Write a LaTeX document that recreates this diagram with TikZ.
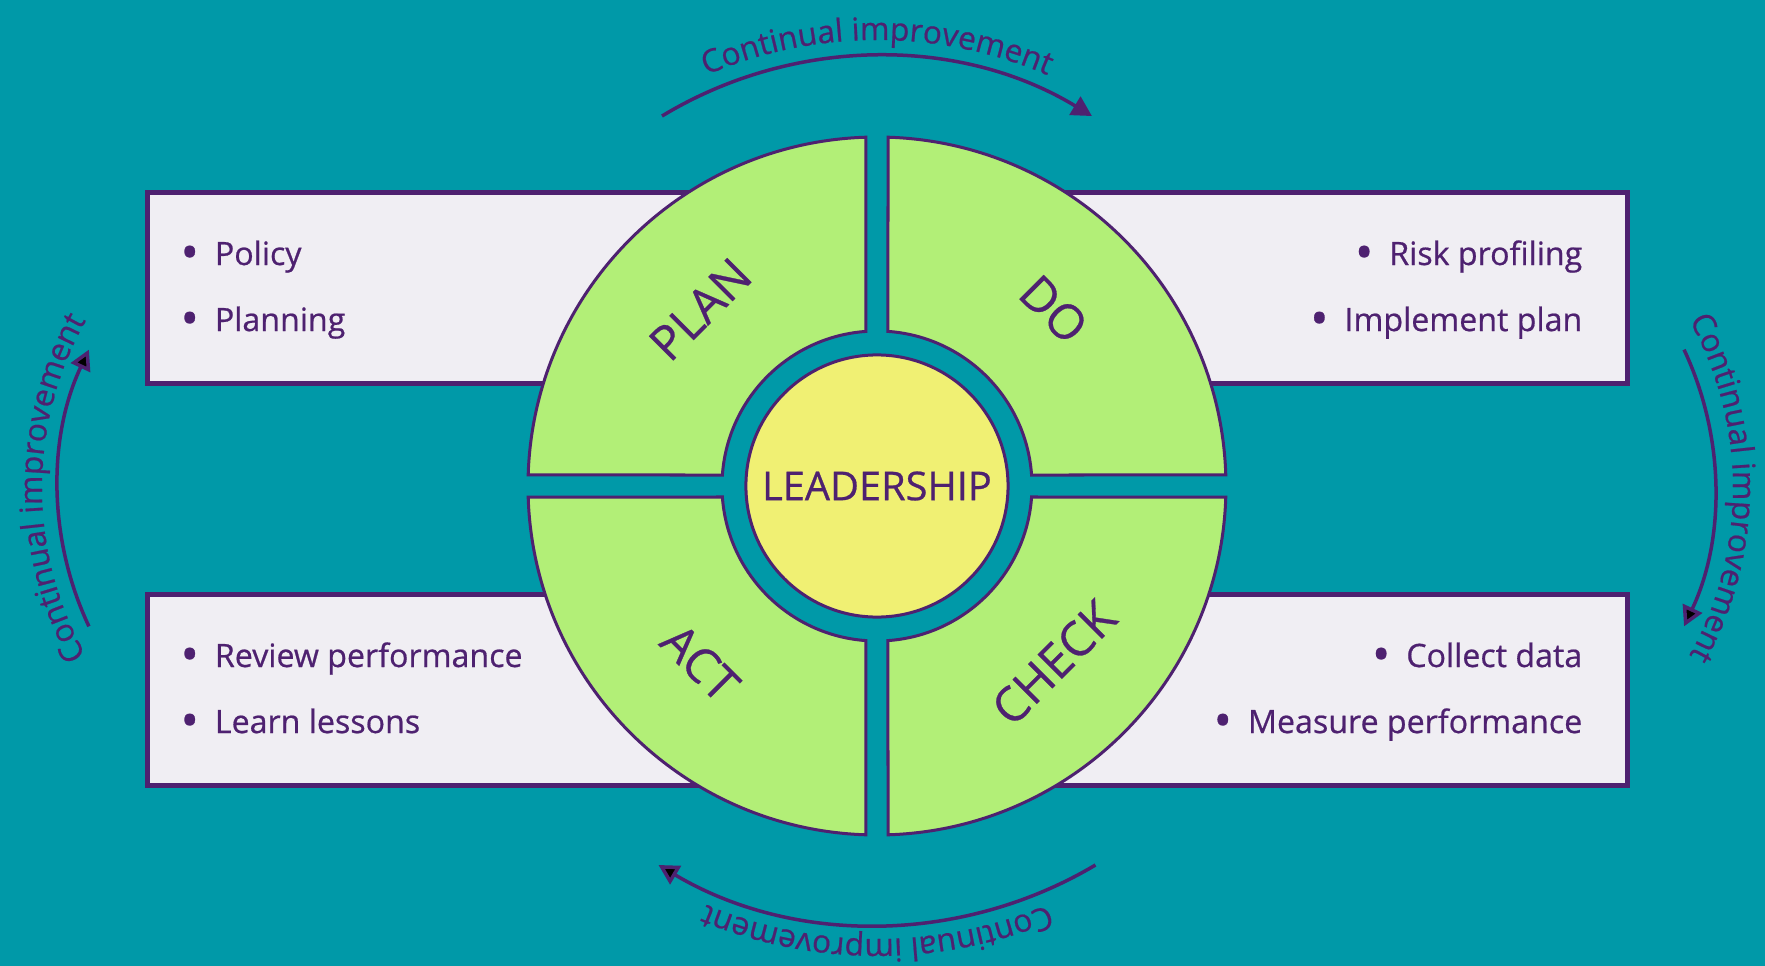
\documentclass[tikz,border=0pt]{standalone}
\usepackage{fontspec}
\setmainfont{Open Sans}[FakeBold=0.6]
\usetikzlibrary{positioning,arrows.meta,decorations.text}
\definecolor{sea}{HTML}{0099A8}
\definecolor{ink}{HTML}{4E2170}
\definecolor{leaf}{HTML}{B2EF77}
\definecolor{lemon}{HTML}{F0F073}
\definecolor{paper}{HTML}{F0EEF3}
\newcommand{\bul}{\raisebox{-0.13em}{\scalebox{1.5}{\textbullet}}\hspace{0.5em}}

\begin{document}
\begin{tikzpicture}[x=0.01cm,y=0.01cm,
    box/.style={draw=ink,line width=0.05cm,fill=paper,inner sep=0},
    quad/.style={draw=ink,line width=0.03cm,fill=leaf},
    phase/.style={text=ink,font=\fontsize{13.6}{15}\selectfont,inner sep=0},
    bulletxt/.style={text=ink,font=\fontsize{9.15}{11}\selectfont,inner sep=0},
    cycarrow/.style={draw=ink,line width=0.035cm,-{Triangle[width=0.21cm,length=0.2cm]}},
    cyctext/.style={decorate,decoration={text along path,text align=center,
        text color=ink,text={|\fontsize{9}{10}\selectfont|Continual improvement}}}]
    \useasboundingbox (-877,-480) rectangle (888,486);
    \fill[sea] (-877,-480) rectangle (888,486);

    % side boxes, partly hidden by the wheel
    \node[box,minimum width=5.95cm,minimum height=1.91cm,anchor=north west] (planbox) at (-732,296) {};
    \node[box,minimum width=6.16cm,minimum height=1.91cm,anchor=north east] (dobox) at (753,296) {};
    \node[box,minimum width=5.95cm,minimum height=1.91cm,anchor=north west] (actbox) at (-732,-106) {};
    \node[box,minimum width=6.16cm,minimum height=1.91cm,anchor=north east] (checkbox) at (753,-106) {};

    \node[bulletxt,anchor=base west] (pol) at (-697,221) {\bul Policy};
    \node[bulletxt,below=0.66cm of pol.base west,anchor=base west] (pln) {\bul Planning};
    \node[bulletxt,anchor=base east] (rsk) at (706,221) {\bul Risk profiling};
    \node[bulletxt,below=0.66cm of rsk.base east,anchor=base east] (imp) {\bul Implement plan};
    \node[bulletxt,anchor=base west] (rev) at (-697,-181) {\bul Review performance};
    \node[bulletxt,below=0.66cm of rev.base west,anchor=base west] (lrn) {\bul Learn lessons};
    \node[bulletxt,anchor=base east] (col) at (706,-181) {\bul Collect data};
    \node[bulletxt,below=0.66cm of col.base east,anchor=base east] (mea) {\bul Measure performance};

    % the wheel
    \foreach \a/\t/\r in {0/DO/-45,90/PLAN/45,180/ACT/-45,270/CHECK/45}{
        \draw[quad] ({\a+1.81}:349) arc[start angle=\a+1.81,end angle=\a+88.19,radius=349]
            -- ({\a+85.93}:155) arc[start angle=\a+85.93,end angle=\a+4.07,radius=155] -- cycle;
        \node[phase,rotate=\r] (q\t) at ({\a+45}:250) {\t};
    }
    \node[circle,draw=ink,line width=0.03cm,fill=lemon,minimum size=2.62cm,inner sep=0,
        text=ink,font=\fontsize{11.3}{13}\selectfont] (lead) at (0,0) {LEADERSHIP};

    % continual improvement arrows
    \coordinate (tc) at (0,15);
    \coordinate (bc) at (0,-11);
    \coordinate (lc) at (-494,-2);
    \coordinate (rc) at (513,-2);
    \draw[cycarrow] ([shift={(121.2:415)}]tc) arc[start angle=121.2,end angle=58.8,radius=415];
    \path[cyctext] ([shift={(125:431)}]tc) arc[start angle=125,end angle=55,radius=431];
    \draw[cycarrow] ([shift={(-59.3:428)}]bc) arc[start angle=-59.3,end angle=-120.7,radius=428];
    \path[cyctext] ([shift={(-55:442)}]bc) arc[start angle=-55,end angle=-125,radius=442];
    \draw[cycarrow] ([shift={(205.2:325)}]lc) arc[start angle=205.2,end angle=154.8,radius=325];
    \path[cyctext] ([shift={(215:341)}]lc) arc[start angle=215,end angle=145,radius=341];
    \draw[cycarrow] ([shift={(25.2:325)}]rc) arc[start angle=25.2,end angle=-25.2,radius=325];
    \path[cyctext] ([shift={(35:343)}]rc) arc[start angle=35,end angle=-35,radius=343];
\end{tikzpicture}
\end{document}
